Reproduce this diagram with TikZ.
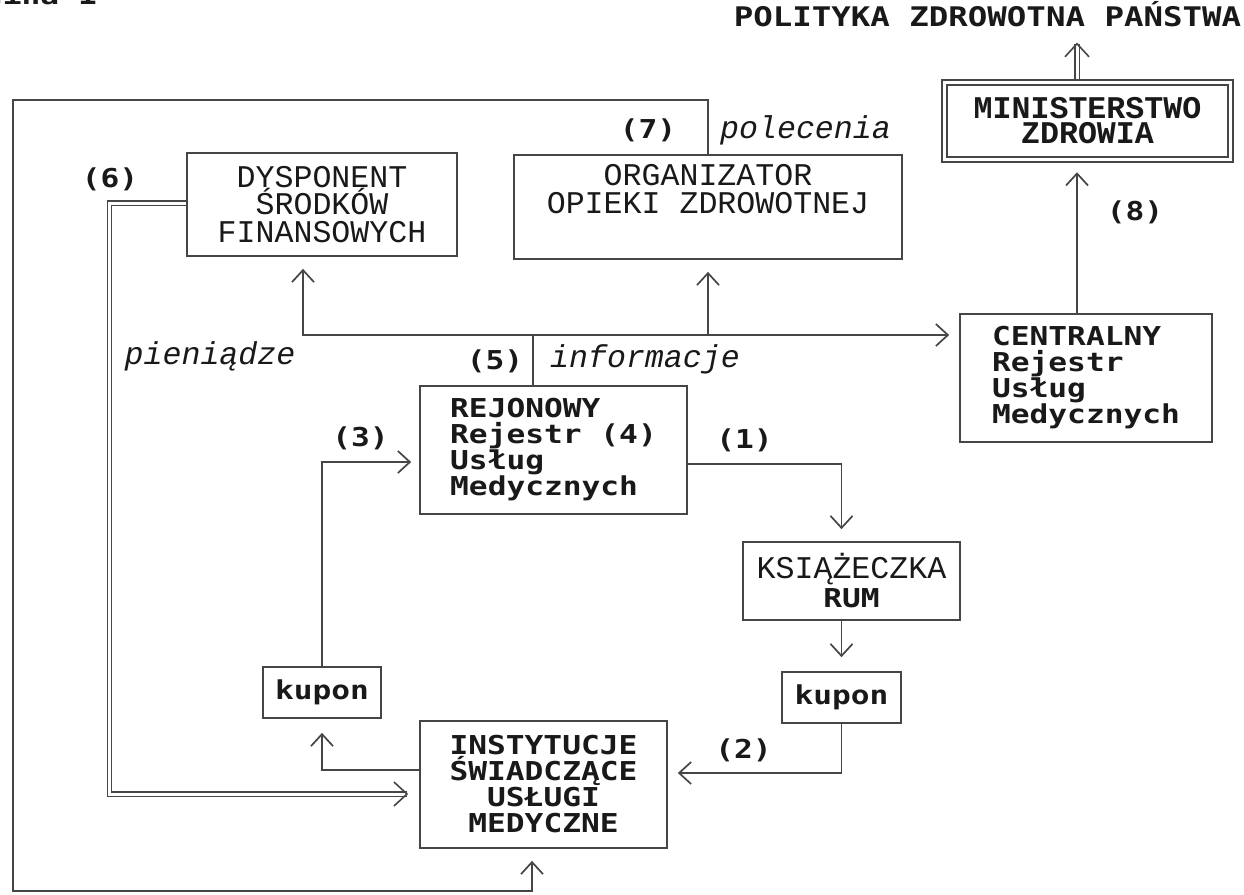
\documentclass[tikz,border=0pt]{standalone}
\usepackage{fontspec}
\usetikzlibrary{arrows.meta}
\newfontfamily\courf{Liberation Mono}
\newfontfamily\dotf[FakeStretch=1.2]{DejaVu Sans Mono}
\definecolor{ln}{RGB}{70,70,70}
\definecolor{tx}{RGB}{25,25,25}
\tikzset{
  box/.style={draw=ln, line width=1.7pt, rectangle, inner sep=0pt, text=tx},
  cour/.style={font=\courf\fontsize{31.6}{27.5}\selectfont},
  dotx/.style={font=\dotf\bfseries\fontsize{26}{26}\selectfont},
  ital/.style={font=\courf\itshape\fontsize{31.6}{27}\selectfont, text=tx, inner sep=0pt},
  lbl/.style={font=\dotf\bfseries\fontsize{26}{26}\selectfont, text=tx, inner sep=0pt},
  conn/.style={draw=ln, line width=1.7pt},
  arr/.style={conn, -{Straight Barb[length=12pt,width=22pt]}, shorten >=12pt},
  dbl/.style={draw=ln, line width=1.4pt, double=white, double distance=3pt},
  dtip/.style={conn, line width=1.6pt, -{Straight Barb[length=13pt,width=24pt]}},
}
\begin{document}
\begin{tikzpicture}[x=1pt,y=-1pt]
\useasboundingbox (0,0) rectangle (1244,894);
\fill[white] (0,0) rectangle (1244,894);

% boxes
\node[box, cour, align=center, minimum width=270pt, minimum height=103pt] (dys) at (322,204.5) {DYSPONENT\\ŚRODKÓW\\FINANSOWYCH};
\node[box, cour, align=center, minimum width=388pt, minimum height=104pt] (org) at (708,207) {ORGANIZATOR\\OPIEKI ZDROWOTNEJ\\\strut};
\node[box, double=white, double distance=3.5pt, line width=1.5pt, font=\courf\bfseries\fontsize{31.6}{25}\selectfont, align=center, minimum width=286pt, minimum height=77pt] (min) at (1087.5,121) {MINISTERSTWO\\ZDROWIA};
\node[box, dotx, align=left, minimum width=252pt, minimum height=128pt] (cen) at (1086,378) {CENTRALNY\\Rejestr\\Usług\\Medycznych};
\node[box, dotx, align=left, minimum width=267pt, minimum height=128pt] (rej) at (553.5,450) {REJONOWY\\Rejestr (4)\\Usług\\Medycznych};
\node[box, align=center, font=\fontsize{31.6}{29}\selectfont, minimum width=217pt, minimum height=78pt] (ksi) at (851.5,581) {{\courf KSIĄŻECZKA}\\{\dotf\bfseries\fontsize{26}{29}\selectfont RUM}};
\node[box, dotx, minimum width=119pt, minimum height=51pt] (kup2) at (841.5,697.5) {kupon};
\node[box, dotx, minimum width=118pt, minimum height=51pt] (kup1) at (322,692.5) {kupon};
\node[box, dotx, align=center, minimum width=247pt, minimum height=127pt] (ins) at (543.5,784.5) {INSTYTUCJE\\ŚWIADCZĄCE\\USŁUGI\\MEDYCZNE};

% labels
\node[lbl, font=\dotf\bfseries\fontsize{27}{27}\selectfont, anchor=base] (pol) at (987.5,27) {POLITYKA ZDROWOTNA PAŃSTWA};
\node[lbl, anchor=base east] (fig) at (97,5) {Rycina 1};
\node[lbl] (l6) at (110,179) {(6)};
\node[lbl] (l7) at (648,130) {(7)};
\node[ital, anchor=base] (lpol) at (805.5,138) {polecenia};
\node[lbl] (l8) at (1135,212) {(8)};
\node[ital, anchor=base] (lpie) at (210,364) {pieniądze};
\node[lbl] (l5) at (495,361) {(5)};
\node[ital, anchor=base] (linf) at (645,367) {informacje};
\node[lbl] (l3) at (360.5,438) {(3)};
\node[lbl] (l1) at (744.5,440) {(1)};
\node[lbl] (l2) at (743.5,750) {(2)};

% coordinates
\coordinate (lt) at (13,100);
\coordinate (lb) at (13,891);
\coordinate (hub) at (533,335);
\coordinate (c6) at (109.5,794);
\coordinate (pt) at ([xshift=-10.5pt]min.north |- pol.south);
\coordinate (it) at (c6 -| ins.west);

% connectors
\draw[arr] (org.north) |- (lt) -- (lb) -| ([xshift=-11.5pt]ins.south);
\draw[conn] ([xshift=-20.5pt]rej.north) -- (hub);
\draw[arr] (hub) -| ([xshift=-19pt]dys.south);
\draw[arr] (hub) -| (org.south);
\draw[arr, shorten >=10pt] (hub) -- (cen.west |- hub);
\draw[arr] ([xshift=-9pt]cen.north) -- ([xshift=-9pt]cen.north |- min.south);
\draw[arr] ([yshift=-14pt]rej.east) -| ([xshift=-10pt]ksi.north);
\draw[arr, shorten >=14pt] (ksi.south -| kup2.north) -- (kup2.north);
\draw[arr, shorten >=10pt] (kup2.south) |- ([yshift=11.5pt]ins.east);
\draw[arr, shorten >=14pt] ([yshift=14.5pt]ins.west) -| (kup1.south);
\draw[arr, shorten >=8pt] (kup1.north) |- ([yshift=-12pt]rej.west);
% double connectors
\draw[dbl, shorten >=16pt] ([xshift=-10.5pt,yshift=2.5pt]min.north) -- (pt);
\draw[dtip] ([yshift=-16pt]pt) -- ([yshift=-15pt]pt);
\draw[dbl, shorten >=12pt] ([yshift=1.5pt]dys.west) -| (c6) -- (it);
\draw[dtip] ([xshift=-12pt]it) -- ([xshift=-11pt]it);
\end{tikzpicture}
\end{document}
